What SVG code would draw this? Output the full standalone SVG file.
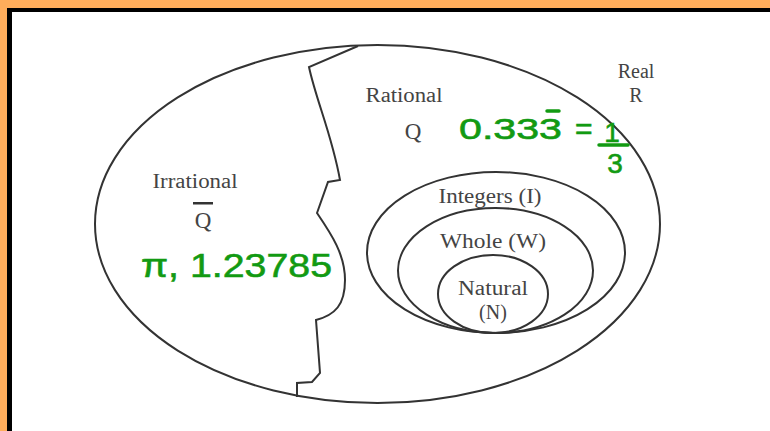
<svg xmlns="http://www.w3.org/2000/svg" width="770" height="431" viewBox="0 0 770 431">
<style>
.ln{fill:none;stroke:#333;stroke-width:2}
.lb{font-family:"Liberation Serif","DejaVu Serif",serif;font-size:20px;fill:#444}
.big{font-size:23px}
.gr{font-family:"Liberation Sans","DejaVu Sans",sans-serif;fill:#129a12;stroke:#129a12;stroke-width:0.6}
.gl{stroke:#129a12;stroke-width:3.5;stroke-linecap:round;fill:none}
</style>
<rect x="0" y="0" width="770" height="431" fill="#ffffff"/>
<rect x="0" y="0" width="770" height="8" fill="#ffad5b"/>
<rect x="0" y="0" width="7" height="431" fill="#ffad5b"/>
<rect x="7" y="8" width="763" height="4" fill="#000"/>
<rect x="7" y="8" width="5" height="423" fill="#000"/>
<g id="real">
<ellipse class="ln" cx="377.5" cy="224" rx="282.5" ry="179"/>
<text class="lb" x="636" y="78" text-anchor="middle">Real</text>
<text class="lb" x="636" y="102" text-anchor="middle">R</text>
</g>
<g id="divider">
<path class="ln" d="M358,46 L309,67 C316,100 332,135 340,180 L328,182 L317,213 C332,235 345,255 345,280 C345,305 335,315 316,320 L320,373 L312,382 L297,383 L297,397"/>
</g>
<g id="irrational">
<text class="lb" x="195" y="188" text-anchor="middle" textLength="85" lengthAdjust="spacingAndGlyphs">Irrational</text>
<text class="lb big" x="203" y="228" text-anchor="middle">Q</text>
<rect x="193" y="202" width="20" height="2.5" fill="#333"/>
<text class="gr" x="141" y="277" font-size="34" textLength="191" lengthAdjust="spacingAndGlyphs">π, 1.23785</text>
</g>
<g id="rational">
<text class="lb" x="404" y="102" text-anchor="middle" textLength="77" lengthAdjust="spacingAndGlyphs">Rational</text>
<text class="lb big" x="413" y="139" text-anchor="middle">Q</text>
<text class="gr" x="459" y="139" font-size="30" textLength="103" lengthAdjust="spacingAndGlyphs">0.333</text>
<line class="gl" x1="547" y1="111" x2="559" y2="111"/>
<text class="gr" x="575" y="139" font-size="30">=</text>
<text class="gr" x="612" y="142" font-size="28" text-anchor="middle">1</text>
<line class="gl" x1="599" y1="145" x2="628" y2="145"/>
<text class="gr" x="615" y="173" font-size="28" text-anchor="middle">3</text>
</g>
<g id="integers">
<ellipse class="ln" cx="496" cy="252.5" rx="129" ry="80.5"/>
<text class="lb" x="490" y="203" text-anchor="middle" textLength="103" lengthAdjust="spacingAndGlyphs">Integers (I)</text>
</g>
<g id="whole">
<ellipse class="ln" cx="495.5" cy="270.5" rx="97.5" ry="62.5"/>
<text class="lb" x="493" y="248" text-anchor="middle" textLength="106" lengthAdjust="spacingAndGlyphs">Whole (W)</text>
</g>
<g id="natural">
<ellipse class="ln" cx="493" cy="294" rx="55" ry="39"/>
<text class="lb" x="493" y="295" text-anchor="middle" textLength="70" lengthAdjust="spacingAndGlyphs">Natural</text>
<text class="lb" x="493" y="319" text-anchor="middle">(N)</text>
</g>
</svg>
